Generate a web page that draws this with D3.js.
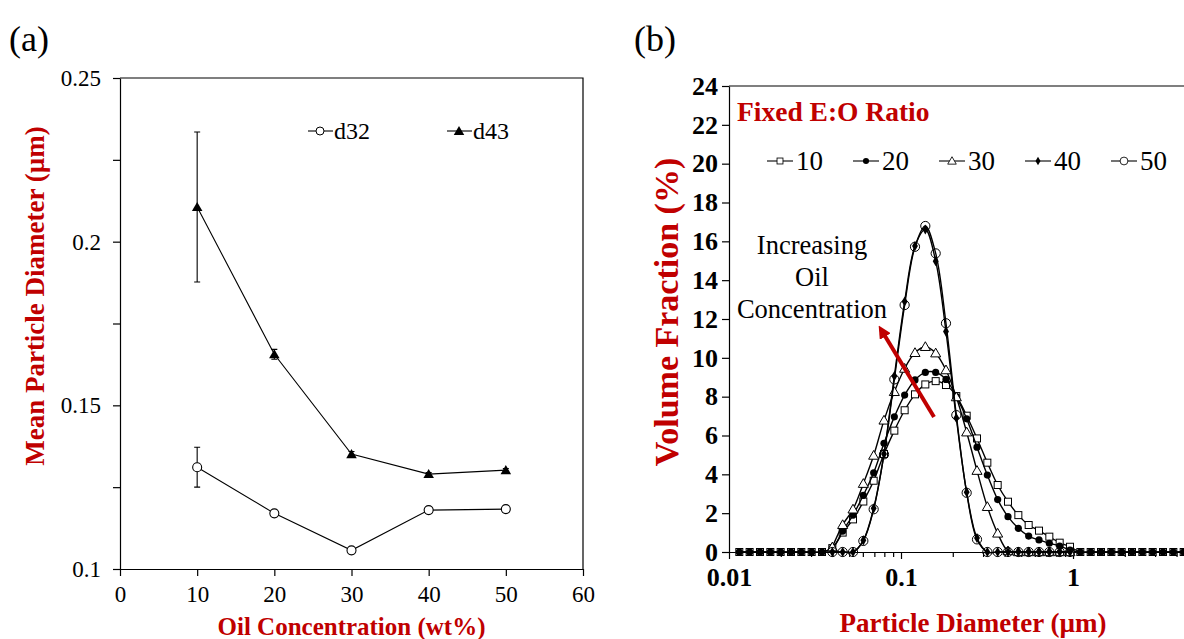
<!DOCTYPE html>
<html>
<head>
<meta charset="utf-8">
<script src="https://cdn.jsdelivr.net/npm/d3@7"></script>
<style>
  html, body { margin: 0; padding: 0; background: #fff; }
  svg { display: block; }
</style>
</head>
<body>
<svg id="chart" width="1184" height="639"></svg>
<script>
// ---- panel (a) data ----
const oilConc = [10, 20, 30, 40, 50];
const d32 = [0.1311, 0.1170, 0.1057, 0.1180, 0.1183];
const d32Err = [0.0061, 0.0008, 0.0005, 0.0005, 0.0005];
const d43 = [0.2106, 0.1656, 0.1351, 0.1290, 0.1302];
const d43Err = [0.0229, 0.0015, 0.0008, 0.0005, 0.0005];
const aTicksX = [0, 10, 20, 30, 40, 50, 60];
const aTicksY = [0.1, 0.125, 0.15, 0.175, 0.2, 0.225, 0.25];
const aLabelsY = ["0.1", "", "0.15", "", "0.2", "", "0.25"];

// ---- panel (b) data ----
const sizeBins = [
  0.01148, 0.01318, 0.01514, 0.01739, 0.01997, 0.02293, 0.02633, 0.03024, 0.03473, 0.03988,
  0.0458, 0.0526, 0.0604, 0.06936, 0.07965, 0.09147, 0.105, 0.1206, 0.1385, 0.1591,
  0.1826, 0.2097, 0.2409, 0.2766, 0.3177, 0.3648, 0.4189, 0.4811, 0.5524, 0.6344,
  0.7285, 0.8366, 0.9607, 1.103, 1.267, 1.455, 1.671, 1.919, 2.203, 2.53,
  2.906, 3.337, 3.832, 4.4, 5.053
];
const vol10 = [
  0, 0, 0, 0, 0, 0, 0, 0, 0, 0.2,
  1.0, 1.68, 2.6, 3.67, 5.05, 6.25, 7.3, 8.12, 8.63, 8.8,
  8.6, 8.03, 7.02, 5.85, 4.6, 3.45, 2.59, 1.9, 1.39, 1.1,
  0.79, 0.48, 0.27, 0, 0, 0, 0, 0, 0, 0,
  0, 0, 0, 0, 0
];
const vol20 = [
  0, 0, 0, 0, 0, 0, 0, 0, 0, 0.2,
  1.08, 1.9, 2.92, 4.08, 5.6, 6.96, 8.08, 8.86, 9.25, 9.25,
  8.89, 8.0, 6.86, 5.4, 3.96, 2.7, 1.82, 1.22, 0.82, 0.62,
  0.45, 0.31, 0.1, 0, 0, 0, 0, 0, 0, 0,
  0, 0, 0, 0, 0
];
const vol30 = [
  null, null, null, null, null, null, null, null, null, 0.25,
  1.4, 2.2, 3.52, 4.97, 6.78, 8.25, 9.45, 10.26, 10.57, 10.24,
  9.37, 7.98, 6.17, 4.19, 2.33, 0.96, 0.05, 0, 0, 0,
  0, 0, 0, null, null, null, null, null, null, null,
  null, null, null, null, null
];
const vol40 = [
  null, null, null, null, null, null, null, null, null, 0,
  0, 0, 0.6, 2.25, 5.05, 9.06, 12.9, 15.76, 16.61, 14.98,
  11.35, 6.9, 3.08, 0.72, 0, 0, 0, 0, 0, 0,
  0, 0, 0, null, null, null, null, null, null, null,
  null, null, null, null, null
];
const vol50 = [
  null, null, null, null, null, null, null, null, null, 0,
  0, 0, 0.57, 2.2, 5.03, 8.89, 12.72, 15.72, 16.79, 15.38,
  11.78, 7.05, 3.05, 0.65, 0, 0, 0, 0, 0, 0,
  0, 0, 0, null, null, null, null, null, null, null,
  null, null, null, null, null
];
const seriesNames = ["10", "20", "30", "40", "50"];
const bTicksY = [0, 2, 4, 6, 8, 10, 12, 14, 16, 18, 20, 22, 24];
const bMajorX = [0.01, 0.1, 1];
const bLabelsX = ["0.01", "0.1", "1"];

const serif = "'Liberation Serif', 'Times New Roman', serif";
const red = "#c00000";

const svg = d3.select("#chart");

// ================= panel (a) =================
const xA = d3.scaleLinear().domain([0, 60]).range([120, 583]);
const yA = d3.scaleLinear().domain([0.1, 0.25]).range([569, 78]);

const gA = svg.append("g");

gA.append("g")
  .attr("transform", `translate(0,${yA(0.1)})`)
  .call(d3.axisBottom(xA).tickValues(aTicksX).tickSize(7).tickSizeOuter(0).tickPadding(10).tickFormat(d3.format("d")))
  .call(g => g.selectAll("text").attr("font-size", 23).attr("font-family", serif).attr("fill", "#000"));

gA.append("g")
  .attr("transform", `translate(${xA(0)},0)`)
  .call(d3.axisLeft(yA).tickValues(aTicksY).tickSize(7).tickSizeOuter(0).tickPadding(12)
    .tickFormat((d, i) => aLabelsY[i]))
  .call(g => g.selectAll("text").attr("font-size", 23).attr("font-family", serif).attr("fill", "#000"));

gA.selectAll(".domain, .tick line").attr("stroke", "#000").attr("stroke-width", 1.2);

// top and right frame
gA.append("path")
  .attr("d", `M${xA(0)},${yA(0.25)}H${xA(60)}V${yA(0.1)}`)
  .attr("fill", "none").attr("stroke", "#000").attr("stroke-width", 1.2);

const lineA = d3.line().x((d, i) => xA(oilConc[i])).y(d => yA(d));

function drawErr(vals, errs) {
  vals.forEach((v, i) => {
    const x = xA(oilConc[i]);
    gA.append("path")
      .attr("d", `M${x},${yA(v + errs[i])}V${yA(v - errs[i])}M${x - 3},${yA(v + errs[i])}h6M${x - 3},${yA(v - errs[i])}h6`)
      .attr("stroke", "#000").attr("stroke-width", 1.1).attr("fill", "none");
  });
}
drawErr(d32, d32Err);
drawErr(d43, d43Err);

gA.append("path").attr("d", lineA(d32)).attr("fill", "none").attr("stroke", "#000").attr("stroke-width", 1.1);
gA.append("path").attr("d", lineA(d43)).attr("fill", "none").attr("stroke", "#000").attr("stroke-width", 1.1);

const triA = d3.symbol().type(d3.symbolTriangle).size(48);

gA.selectAll(".m32").data(d32).join("circle")
  .attr("cx", (d, i) => xA(oilConc[i])).attr("cy", d => yA(d)).attr("r", 4.5)
  .attr("fill", "#fff").attr("stroke", "#000").attr("stroke-width", 1.1);

gA.selectAll(".m43").data(d43).join("path")
  .attr("d", triA)
  .attr("transform", (d, i) => `translate(${xA(oilConc[i])},${yA(d) + 1})`)
  .attr("fill", "#000");

// legend (a)
const legA = gA.append("g").attr("font-family", serif).attr("font-size", 24);
legA.append("path").attr("d", "M308,131H333").attr("stroke", "#000").attr("stroke-width", 1.1);
legA.append("circle").attr("cx", 320).attr("cy", 131).attr("r", 4).attr("fill", "#fff").attr("stroke", "#000");
legA.append("text").attr("x", 334).attr("y", 139).text("d32");
legA.append("path").attr("d", "M447,131H472").attr("stroke", "#000").attr("stroke-width", 1.1);
legA.append("path").attr("d", triA).attr("transform", "translate(459,132)").attr("fill", "#000");
legA.append("text").attr("x", 473).attr("y", 139).text("d43");

// titles (a)
svg.append("text").attr("x", 9).attr("y", 51).attr("font-family", serif).attr("font-size", 36).text("(a)");
svg.append("text").attr("x", (120 + 583) / 2).attr("y", 635).attr("text-anchor", "middle")
  .attr("font-family", serif).attr("font-size", 25).attr("font-weight", "bold").attr("fill", red)
  .text("Oil Concentration (wt%)");
svg.append("text").attr("transform", "translate(44,296) rotate(-90)").attr("text-anchor", "middle")
  .attr("font-family", serif).attr("font-size", 27).attr("font-weight", "bold").attr("fill", red)
  .text("Mean Particle Diameter (µm)");

// ================= panel (b) =================
const xB = d3.scaleLog().domain([0.01, 10]).range([729, 729 + 3 * 172]);
const yB = d3.scaleLinear().domain([0, 24]).range([552, 86]);

const gB = svg.append("g");

const minorX = [];
[0.01, 0.1, 1].forEach(dec => [2, 3, 4, 5, 6, 7, 8, 9].forEach(m => minorX.push(dec * m)));

gB.append("g")
  .attr("transform", `translate(0,${yB(0)})`)
  .call(d3.axisBottom(xB).tickValues(minorX).tickSize(5).tickSizeOuter(0).tickFormat(""))
  .call(g => g.select(".domain").remove());

gB.append("g")
  .attr("transform", `translate(0,${yB(0)})`)
  .call(d3.axisBottom(xB).tickValues(bMajorX).tickSize(7).tickSizeOuter(0).tickPadding(9)
    .tickFormat((d, i) => bLabelsX[i]))
  .call(g => g.selectAll("text").attr("font-size", 26).attr("font-weight", "bold").attr("font-family", serif).attr("fill", "#000"));

gB.append("g")
  .attr("transform", `translate(${xB(0.01)},0)`)
  .call(d3.axisLeft(yB).tickValues(bTicksY).tickSize(7).tickSizeOuter(0).tickPadding(4))
  .call(g => g.selectAll("text").attr("font-size", 26).attr("font-weight", "bold").attr("font-family", serif).attr("fill", "#000"));

gB.selectAll(".domain, .tick line").attr("stroke", "#000").attr("stroke-width", 1.2);

gB.append("path")
  .attr("d", `M${xB(0.01)},${yB(24)}H${xB(10)}V${yB(0)}`)
  .attr("fill", "none").attr("stroke", "#000").attr("stroke-width", 1.2);

const allSeries = [vol10, vol20, vol30, vol40, vol50];
const lineB = d3.line()
  .defined(d => d != null)
  .x((d, i) => xB(sizeBins[i]))
  .y(d => yB(d))
  .curve(d3.curveCatmullRom.alpha(0.5));

function marker(sel, k) {
  if (k === 0) {
    sel.append("rect").attr("x", -3.5).attr("y", -3.5).attr("width", 7).attr("height", 7)
      .attr("fill", "#fff").attr("stroke", "#000").attr("stroke-width", 1);
  } else if (k === 1) {
    sel.append("circle").attr("r", 3.6).attr("fill", "#000");
  } else if (k === 2) {
    sel.append("path").attr("d", d3.symbol().type(d3.symbolTriangle).size(44)).attr("transform", "translate(0,0.8)")
      .attr("fill", "#fff").attr("stroke", "#000").attr("stroke-width", 1);
  } else if (k === 3) {
    sel.append("path").attr("d", d3.symbol().type(d3.symbolDiamond).size(30))
      .attr("fill", "#000");
  } else {
    sel.append("circle").attr("r", 4.6).attr("fill", "none").attr("stroke", "#000").attr("stroke-width", 1);
  }
}

allSeries.forEach((vals, k) => {
  const g = gB.append("g");
  g.append("path").attr("d", lineB(vals)).attr("fill", "none").attr("stroke", "#000").attr("stroke-width", 1.4);
  const pts = vals.map((v, i) => ({ v, x: sizeBins[i] })).filter(p => p.v != null);
  g.selectAll("g.pt").data(pts).join("g")
    .attr("transform", p => `translate(${xB(p.x)},${yB(p.v)})`)
    .each(function () { marker(d3.select(this), k); });
});

// annotation arrow (data units)
const arrowFrom = [0.1556, 6.95];
const arrowTo = [0.0775, 11.38];
svg.append("defs").append("marker")
  .attr("id", "arrowhead").attr("viewBox", "0 0 10 10").attr("refX", 5).attr("refY", 5)
  .attr("markerWidth", 3.2).attr("markerHeight", 3.2).attr("orient", "auto")
  .append("path").attr("d", "M0,0L10,5L0,10Z").attr("fill", red);
gB.append("line")
  .attr("x1", xB(arrowFrom[0])).attr("y1", yB(arrowFrom[1]))
  .attr("x2", xB(arrowTo[0])).attr("y2", yB(arrowTo[1]))
  .attr("stroke", red).attr("stroke-width", 4).attr("marker-end", "url(#arrowhead)");

const annot = gB.append("text").attr("font-family", serif).attr("font-size", 26.5).attr("text-anchor", "middle");
["Increasing", "Oil", "Concentration"].forEach((t, i) =>
  annot.append("tspan").attr("x", 812).attr("y", 254 + i * 32).text(t));

gB.append("text").attr("x", 737).attr("y", 121).attr("font-family", serif).attr("font-size", 27.5)
  .attr("font-weight", "bold").attr("fill", red).text("Fixed E:O Ratio");

// legend (b)
const legB = gB.append("g").attr("font-family", serif).attr("font-size", 27);
seriesNames.forEach((name, k) => {
  const x0 = 767 + k * 86;
  legB.append("path").attr("d", `M${x0},161h26`).attr("stroke", "#000").attr("stroke-width", 1.1);
  const m = legB.append("g").attr("transform", `translate(${x0 + 13},161) scale(0.85)`);
  marker(m, k);
  if (k === 4) m.select("circle").attr("fill", "#fff");
  legB.append("text").attr("x", x0 + 29).attr("y", 170).text(name);
});

svg.append("text").attr("x", 634).attr("y", 51).attr("font-family", serif).attr("font-size", 36).text("(b)");
svg.append("text").attr("x", 973).attr("y", 632).attr("text-anchor", "middle")
  .attr("font-family", serif).attr("font-size", 27).attr("font-weight", "bold").attr("fill", red)
  .text("Particle Diameter (µm)");
svg.append("text").attr("transform", "translate(678,312) rotate(-90)").attr("text-anchor", "middle")
  .attr("font-family", serif).attr("font-size", 34).attr("font-weight", "bold").attr("fill", red)
  .text("Volume Fraction (%)");
</script>
</body>
</html>
